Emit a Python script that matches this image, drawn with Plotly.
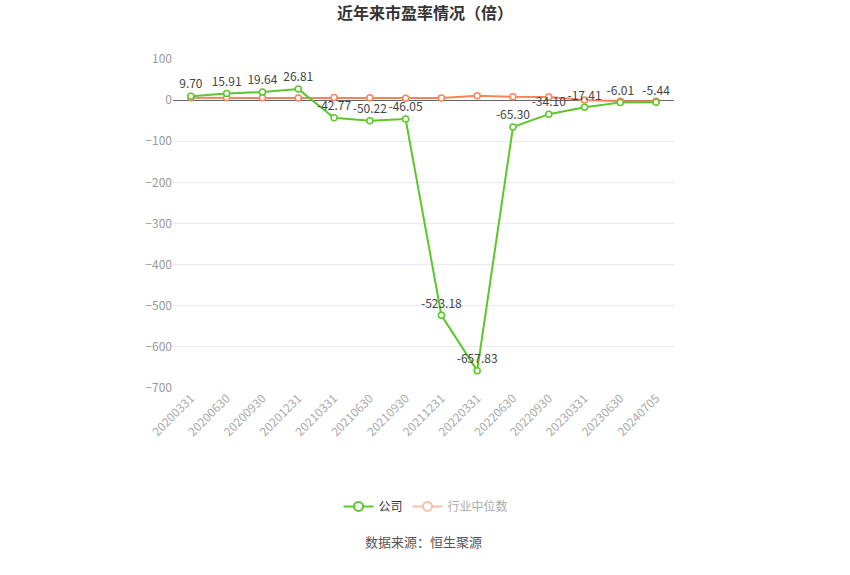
import plotly.graph_objs as go

# 报告期
dates = ['20200331', '20200630', '20200930', '20201231', '20210331', '20210630',
         '20210930', '20211231', '20220331', '20220630', '20220930', '20230331',
         '20230630', '20240705']

# 公司市盈率
company_pe = [9.70, 15.91, 19.64, 26.81, -42.77, -50.22, -46.05, -523.18,
              -657.83, -65.30, -34.10, -17.41, -6.01, -5.44]

# 行业中位数
industry_pe = [5.5, 5.6, 5.8, 5.4, 6.2, 5.5, 4.8, 5.0, 10.5, 8.0, 7.8, 0.5,
               -2.8, -3.0]

green = '#5cc72a'
orange = '#f4845a'
font_family = 'Noto Sans CJK SC, Microsoft YaHei, sans-serif'

company_line = go.Scatter(
    x=dates,
    y=company_pe,
    mode='lines+markers+text',
    text=['%.2f' % v for v in company_pe],
    textposition='top center',
    textfont=dict(size=12, color='#444'),
    line=dict(color=green, width=2),
    marker=dict(symbol='circle', size=6, color='white',
                line=dict(color=green, width=1.5)),
    showlegend=False,
    name='公司'
)

industry_line = go.Scatter(
    x=dates,
    y=industry_pe,
    mode='lines+markers',
    line=dict(color=orange, width=2),
    marker=dict(symbol='circle', size=6, color='white',
                line=dict(color=orange, width=1.5)),
    showlegend=False,
    name='行业中位数'
)

# 图例（行业中位数为淡色）
legend_company = go.Scatter(
    x=[None], y=[None], mode='lines+markers', name='公司',
    line=dict(color=green, width=2),
    marker=dict(size=9, color='white', line=dict(color=green, width=2))
)
legend_industry = go.Scatter(
    x=[None], y=[None], mode='lines+markers', name='<span style="color:#aaa">行业中位数</span>',
    line=dict(color='#fbbfa8', width=2),
    marker=dict(size=9, color='white', line=dict(color='#fbbfa8', width=2))
)

fig = go.Figure(data=[industry_line, company_line, legend_company, legend_industry])

fig.update_layout(
    width=850,
    height=575,
    plot_bgcolor='white',
    paper_bgcolor='white',
    font=dict(family=font_family, size=12, color='#999'),
    margin=dict(l=173, r=176, t=59, b=187, autoexpand=False),
    title=dict(text='<b>近年来市盈率情况（倍）</b>', x=0.5, y=0.976,
               xanchor='center', yanchor='middle',
               font=dict(size=16, color='#333')),
    legend=dict(orientation='h', x=0.505, xanchor='center', y=-0.36,
                yanchor='middle', font=dict(size=12, color='#333'),
                itemwidth=30),
    annotations=[dict(text='数据来源：恒生聚源', x=0.5, xref='paper',
                      y=-0.5, yref='paper', showarrow=False,
                      font=dict(size=13, color='#555'))]
)

fig.update_xaxes(
    type='category',
    range=[-0.5, len(dates) - 0.5],
    tickangle=-45,
    tickfont=dict(size=12, color='#aaa'),
    showgrid=False,
    showline=False,
    ticks='',
    automargin=False,
)

fig.update_yaxes(
    range=[-700, 100],
    dtick=100,
    tickfont=dict(size=12, color='#999'),
    showgrid=True,
    gridcolor='#e6ebf3',
    zeroline=True,
    zerolinecolor='#666',
    zerolinewidth=1,
    showline=False,
    automargin=False,
)

# 去掉页面默认边距，隐藏工具栏
fig.write_html('out.html', config={'displayModeBar': False},
               post_script="document.body.style.margin='0';")
